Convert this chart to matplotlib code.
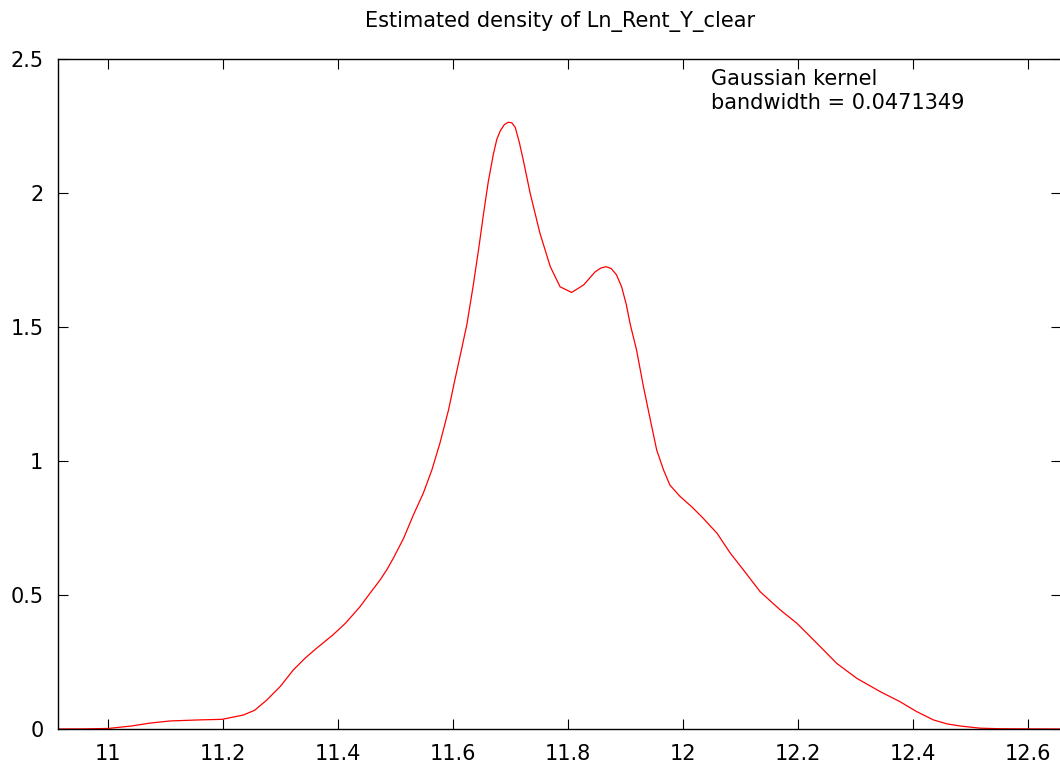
import matplotlib
matplotlib.use("Agg")
import matplotlib.pyplot as plt

# Density curve (x, estimated density)
x_vals = [10.913, 10.96, 11.0, 11.04, 11.073, 11.108, 11.16, 11.198, 11.235, 11.255,
          11.276, 11.30, 11.322, 11.343, 11.363, 11.391, 11.413, 11.438, 11.455, 11.473,
          11.485, 11.496, 11.514, 11.531, 11.548, 11.563, 11.577, 11.592, 11.603, 11.612,
          11.624, 11.635, 11.645, 11.653, 11.661, 11.670, 11.676, 11.682, 11.689, 11.696,
          11.702, 11.708, 11.715, 11.722, 11.734, 11.751, 11.769, 11.786, 11.806, 11.827,
          11.847, 11.857, 11.866, 11.875, 11.884, 11.893, 11.901, 11.908, 11.919, 11.931,
          11.943, 11.954, 11.966, 11.977, 11.995, 12.015, 12.035, 12.059, 12.082, 12.105,
          12.134, 12.169, 12.198, 12.227, 12.267, 12.302, 12.343, 12.377, 12.406, 12.435,
          12.459, 12.482, 12.517, 12.551, 12.657]
y_vals = [0.0, 0.0005, 0.002, 0.011, 0.022, 0.030, 0.034, 0.036, 0.052, 0.070,
          0.108, 0.160, 0.220, 0.265, 0.302, 0.351, 0.395, 0.456, 0.505, 0.556,
          0.595, 0.637, 0.712, 0.799, 0.879, 0.966, 1.066, 1.190, 1.302, 1.390,
          1.510, 1.655, 1.800, 1.924, 2.040, 2.145, 2.200, 2.232, 2.255, 2.264,
          2.262, 2.245, 2.190, 2.123, 1.999, 1.85, 1.725, 1.65, 1.629, 1.657,
          1.706, 1.720, 1.725, 1.718, 1.695, 1.650, 1.585, 1.510, 1.414, 1.277,
          1.153, 1.041, 0.966, 0.910, 0.867, 0.829, 0.786, 0.730, 0.656, 0.593,
          0.512, 0.444, 0.394, 0.332, 0.245, 0.189, 0.139, 0.102, 0.065, 0.034,
          0.019, 0.011, 0.003, 0.001, 0.0]

x_ticks = [11.0, 11.2, 11.4, 11.6, 11.8, 12.0, 12.2, 12.4, 12.6]
x_tick_labels = ["11", "11.2", "11.4", "11.6", "11.8", "12", "12.2", "12.4", "12.6"]
y_ticks = [0, 0.5, 1, 1.5, 2, 2.5]
y_tick_labels = ["0", "0.5", "1", "1.5", "2", "2.5"]

title = "Estimated density of Ln_Rent_Y_clear"
note = "Gaussian kernel\nbandwidth = 0.0471349"

W, H = 1060, 767
fig = plt.figure(figsize=(W / 100, H / 100), dpi=100)
left, right, top, bottom = 58, 1061, 59, 729
ax = fig.add_axes([left / W, 1 - bottom / H, (right - left) / W, (bottom - top) / H])

ax.plot(x_vals, y_vals, color="#ff0000", lw=0.9)
ax.set_xlim(10.913, 12.657)
ax.set_ylim(0, 2.5)
ax.set_xticks(x_ticks)
ax.set_xticklabels(x_tick_labels)
ax.set_yticks(y_ticks)
ax.set_yticklabels(y_tick_labels)

fs = 15
ax.tick_params(direction="in", length=7.2, width=0.8, top=True, right=True,
               labelsize=fs, colors="black")
ax.tick_params(axis="x", pad=11)
ax.tick_params(axis="y", pad=10.5)
for s in ax.spines.values():
    s.set_linewidth(1.0)
    s.set_color("black")

fig.text(560 / W, 1 - 22 / H, title, ha="center", va="center", fontsize=fs)
fig.text(711 / W, 1 - 69 / H, note, ha="left", va="top", fontsize=fs, linespacing=1.25)

fig.savefig("out.png", dpi=100)
